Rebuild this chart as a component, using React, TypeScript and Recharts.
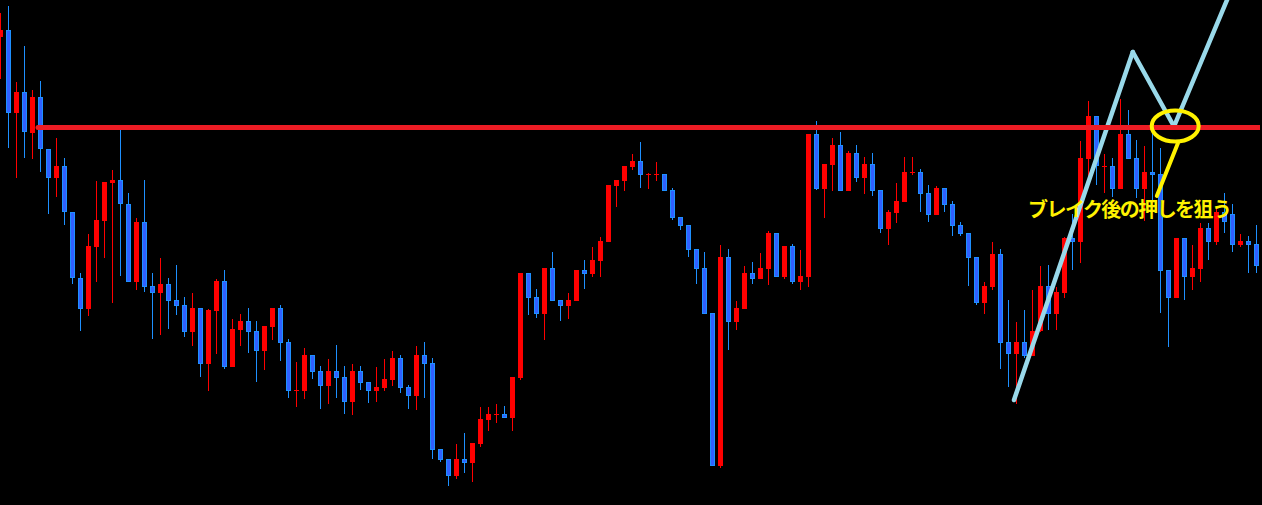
import React from "react";
import { ComposedChart, Bar, XAxis, YAxis, ReferenceLine, ReferenceDot } from "recharts";

// Price levels (arbitrary units; 0 = bottom of the picture, 505 = top)
const opens = [468,475,392,413,372,408,356,327,339,293,227,196,258,284,322,325,301,223,283,219,212,221,205,200,173,197,141,194,224,138,175,184,174,154,178,197,163,114,114,150,134,119,134,128,103,134,123,114,117,125,147,118,109,150,142,56,46,29,46,42,61,85,90,91,87,127,232,208,191,237,205,199,204,235,231,244,263,319,324,338,344,330,330,331,315,288,280,256,237,192,39,248,183,196,232,226,236,272,228,259,223,228,371,316,340,360,314,352,327,341,315,276,292,303,332,333,312,290,317,301,280,272,248,202,218,251,163,151,163,149,174,219,191,212,267,263,346,389,338,339,316,371,347,316,333,331,235,207,267,228,236,277,263,293,291,260,264,261];
const highs = [492,499,423,459,415,424,356,367,347,293,232,271,324,323,335,375,312,287,325,232,247,227,240,208,212,197,196,226,235,186,191,197,184,179,197,200,166,143,157,150,139,146,160,139,141,139,123,138,146,154,150,120,159,163,147,56,46,61,72,62,98,98,101,99,128,232,232,216,237,253,205,212,235,245,258,268,320,325,339,351,363,332,343,331,317,288,280,256,253,192,260,256,204,239,243,252,274,272,259,261,255,371,384,341,367,373,354,360,348,352,315,295,322,348,348,336,320,319,317,304,283,272,248,223,263,256,205,183,195,215,239,240,218,268,291,364,404,389,351,347,406,395,365,359,377,357,235,267,267,260,282,282,298,312,301,271,269,280];
const lows = [426,357,327,347,346,333,291,308,280,221,174,189,223,247,202,229,223,215,213,166,170,176,190,168,159,128,114,151,136,138,159,152,123,135,165,144,107,98,106,126,96,101,107,91,90,115,102,103,114,119,112,96,95,107,46,43,19,26,32,23,58,74,82,87,74,125,190,187,165,204,184,186,204,216,228,228,263,298,314,335,317,316,324,314,285,275,248,221,191,39,37,155,175,196,221,226,220,228,226,221,215,218,315,287,314,314,314,323,311,309,272,260,282,303,330,293,283,290,293,269,269,219,200,191,215,136,118,101,147,149,173,175,175,207,235,242,328,320,312,308,316,346,307,284,305,192,158,207,205,215,223,245,260,272,253,258,232,232];
const closes = [475,392,413,373,408,356,327,339,293,227,196,259,285,323,325,301,223,283,218,212,221,204,199,173,197,141,195,224,138,176,184,173,154,179,197,162,114,115,150,133,119,134,127,103,134,122,114,118,126,147,117,109,150,141,55,45,29,46,42,62,86,91,91,87,128,232,207,191,237,204,199,205,235,231,245,264,320,325,339,344,330,331,331,314,287,279,255,236,191,39,248,183,197,232,226,237,272,228,259,223,229,371,316,341,360,314,352,327,341,314,276,293,304,333,333,311,290,317,300,279,271,247,202,219,251,162,151,163,149,174,219,191,213,267,263,347,389,339,339,316,371,346,316,333,330,234,207,267,228,237,277,263,293,283,260,264,260,239];

// Annotation levels / positions (x in candle index units)
const resistanceLevel = 377.5;
const resistanceFrom = 4.75;
const zigzagX = [126.75, 141.6, 146.75, 153.9];
const zigzagY = [105, 453, 378.5, 515];
const circleAt = { x: 146.9, y: 379 };
const stickFrom = { x: 147.25, y: 362 };
const stickTo = { x: 144.6, y: 309 };
const noteAt = { x: 128.5, y: 288.5 };
const noteText = "ブレイク後の押しを狙う";

const data = opens.map((o, i) => ({ i, o, h: highs[i], l: lows[i], c: closes[i] }));

const RED = "#FF0000";
const BLUE_FILL = "#3060FF";
const BLUE_EDGE = "#1E90FF";

function Candle(props: any) {
  const { x, y, width, height, payload } = props;
  if (!payload) return null;
  const { o, h, l, c } = payload;
  const top = Math.min(y, y + height);
  const bot = Math.max(y, y + height);
  const k = (bot - top) / (h - l);
  const py = (v: number) => top + (h - v) * k;
  const cx = Math.round(x + width / 2);
  const up = c >= o;
  const bTop = Math.round(py(Math.max(o, c)));
  const bBot = Math.round(py(Math.min(o, c)));
  const bh = Math.max(1, bBot - bTop);
  const wTop = Math.round(py(h));
  const wBot = Math.round(py(l));
  if (up) {
    return (
      <g>
        <rect x={cx} y={wTop} width={1} height={Math.max(1, wBot - wTop)} fill={RED} />
        <rect x={cx - 2} y={bTop} width={5} height={bh} fill={RED} />
      </g>
    );
  }
  return (
    <g>
      <rect x={cx} y={wTop} width={1} height={Math.max(1, wBot - wTop)} fill={BLUE_EDGE} />
      {bh >= 3 ? (
        <rect x={cx - 1.5} y={bTop + 0.5} width={4} height={bh - 1} fill={BLUE_FILL} stroke={BLUE_EDGE} strokeWidth={1} />
      ) : (
        <rect x={cx - 2} y={bTop} width={5} height={bh} fill={BLUE_EDGE} />
      )}
    </g>
  );
}

export default function App() {
  const zig = zigzagX.slice(0, -1).map((x, k) => [
    { x, y: zigzagY[k] },
    { x: zigzagX[k + 1], y: zigzagY[k + 1] },
  ]);
  return (
    <div style={{ position: "absolute", left: 0, top: 0, width: 1262, height: 505, background: "#000", overflow: "hidden" }}>
      <div style={{ position: "absolute", left: -4, top: 0 }}>
        <ComposedChart width={1264} height={505} data={data} margin={{ top: 0, right: 0, bottom: 0, left: 0 }} barCategoryGap={0} barGap={0}>
          <XAxis dataKey="i" type="category" hide />
          <XAxis xAxisId="n" dataKey="i" type="number" domain={[-0.5, 157.5]} allowDataOverflow hide />
          <YAxis type="number" domain={[0, 505]} allowDataOverflow hide />
          <Bar dataKey={(d: any) => [d.l, d.h]} shape={<Candle />} isAnimationActive={false} />
          {zig.map((seg, k) => (
            <ReferenceLine key={k} xAxisId="n" segment={seg} stroke="#99D9EA" strokeWidth={4.5} strokeLinecap="round" ifOverflow="visible" />
          ))}
          <ReferenceLine xAxisId="n" segment={[{ x: resistanceFrom, y: resistanceLevel }, { x: 158, y: resistanceLevel }]} stroke="#ED1C24" strokeWidth={5} strokeLinecap="round" ifOverflow="visible" />
          <ReferenceDot xAxisId="n" x={circleAt.x} y={circleAt.y} r={1} ifOverflow="visible"
            shape={(p: any) => <ellipse cx={p.cx} cy={p.cy} rx={23.5} ry={15.5} fill="none" stroke="#FFF200" strokeWidth={4} />} />
          <ReferenceLine xAxisId="n" segment={[stickFrom, stickTo]} stroke="#FFF200" strokeWidth={4} strokeLinecap="round" ifOverflow="visible" />
          <ReferenceDot xAxisId="n" x={noteAt.x} y={noteAt.y} r={1} ifOverflow="visible"
            shape={(p: any) => (
              <text x={p.cx} y={p.cy} fill="#FFF200" fontSize={20} fontWeight="bold" fontFamily="'Noto Sans CJK JP', sans-serif" textLength={204} lengthAdjust="spacing">
                {noteText}
              </text>
            )} />
        </ComposedChart>
      </div>
    </div>
  );
}
